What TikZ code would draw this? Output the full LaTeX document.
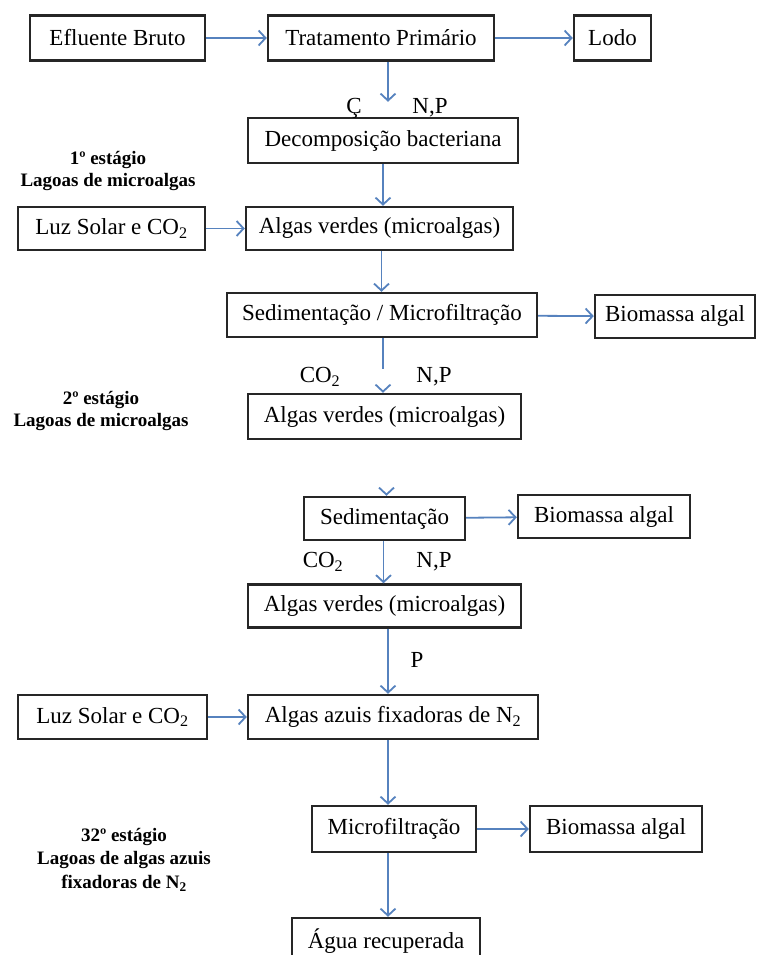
\documentclass[tikz,border=0pt]{standalone}
\usepackage{fontspec}
\setmainfont{Liberation Serif}
\usetikzlibrary{arrows.meta}
\definecolor{flowblue}{RGB}{86,130,190}

\begin{document}
\begin{tikzpicture}[x=1pt, y=-1pt, >={Straight Barb[length=7pt,width=15pt]},
    box/.style={draw=black!85, line width=2.4pt, fill=white, inner sep=0pt,
                minimum height=45pt, font=\fontsize{23}{27}\selectfont},
    flow/.style={->, draw=flowblue, line width=1.8pt},
    lbl/.style={inner sep=0pt, font=\fontsize{23}{27}\selectfont},
    stage/.style={align=center, inner sep=0pt, font=\bfseries\fontsize{19}{22}\selectfont}]

  \useasboundingbox (0,0) rectangle (756,955);

  \node[box, minimum width=175pt] (eflu)   at (117.5,38)  {Efluente Bruto};
  \node[box, minimum width=226pt] (trat)   at (381,38)    {Tratamento Primário};
  \node[box, minimum width=77pt]  (lodo)   at (612.5,38)  {Lodo};
  \node[box, minimum width=270pt] (decomp) at (383,140.5) {Decomposição bacteriana};

  \node[box, minimum width=187pt, minimum height=43pt] (luzA)    at (111.5,228.5) {Luz Solar e CO\textsubscript{2}};
  \node[box, minimum width=267pt, minimum height=43pt] (verdesA) at (379.5,228.5) {Algas verdes (microalgas)};
  \node[box, minimum width=310pt, minimum height=44pt] (sedmic)  at (382,315)     {Sedimentação / Microfiltração};
  \node[box, minimum width=160pt, minimum height=43pt] (bioA)    at (675,316.5)   {Biomassa algal};
  \node[box, minimum width=273pt] (verdesB) at (384.5,416.5) {Algas verdes (microalgas)};

  \node[box, minimum width=161pt, minimum height=43pt] (sedim)   at (384.5,518.5) {Sedimentação};
  \node[box, minimum width=172pt, minimum height=43pt] (bioB)    at (604,516.5)   {Biomassa algal};
  \node[box, minimum width=273pt, minimum height=43pt] (verdesC) at (384.5,606)   {Algas verdes (microalgas)};

  \node[box, minimum width=189pt, minimum height=44pt] (luzB)   at (112.5,717) {Luz Solar e CO\textsubscript{2}};
  \node[box, minimum width=290pt, minimum height=44pt] (azuis)  at (393,717)   {Algas azuis fixadoras de N\textsubscript{2}};
  \node[box, minimum width=164pt, minimum height=46pt] (microf) at (394,829)   {Microfiltração};
  \node[box, minimum width=172pt, minimum height=46pt] (bioC)   at (616,829)   {Biomassa algal};
  \node[box, minimum width=188pt, minimum height=46pt] (agua)   at (386,941)   {Água recuperada};

  \node[stage] (stageA) at (108,171)   {1º estágio\\Lagoas de microalgas};
  \node[stage] (stageB) at (101,410.5) {2º estágio\\Lagoas de microalgas};
  \node[stage, font=\bfseries\fontsize{19}{23.5}\selectfont] (stageC) at (124,859.5) {32º estágio\\Lagoas de algas azuis\\fixadoras de N\textsubscript{2}};

  \node[lbl] (cA)   at (354,108) {Ç};
  \node[lbl] (npA)  at (430,108) {N,P};
  \node[lbl] (co2A) at (320,377) {CO\textsubscript{2}};
  \node[lbl] (npB)  at (434,377) {N,P};
  \node[lbl] (co2B) at (323,562) {CO\textsubscript{2}};
  \node[lbl] (npC)  at (434,562) {N,P};
  \node[lbl] (pA)   at (417,660) {P};

  \draw[flow] (eflu) -- (trat);
  \draw[flow] (trat) -- (lodo);
  \draw[flow, shorten >=15pt] ([xshift=7pt]trat.south) -- ([xshift=7pt]trat.south |- decomp.north);
  \draw[flow] (decomp) -- (decomp |- verdesA.north);
  \draw[flow] (luzA) -- (verdesA);
  \draw[flow] ([xshift=2pt]verdesA.south) -- ([xshift=2pt]verdesA.south |- sedmic.north);
  \draw[flow] (sedmic) -- (bioA);
  \draw[flow, dash pattern=on 31pt off 60pt] ([xshift=1pt]sedmic.south) -- ([xshift=1pt]sedmic.south |- verdesB.north);
  \draw[flow, dash pattern=on 0pt off 80pt] ([xshift=2pt]verdesB.south) -- ([xshift=2pt]verdesB.south |- sedim.north);

  \draw[flow] (sedim) -- (bioB);
  \draw[flow] ([xshift=-1pt]sedim.south) -- ([xshift=-1pt]sedim.south |- verdesC.north);
  \draw[flow] ([xshift=3.5pt]verdesC.south) -- ([xshift=3.5pt]verdesC.south |- azuis.north);
  \draw[flow] (luzB) -- (azuis);
  \draw[flow] ([xshift=-5pt]azuis.south) -- ([xshift=-5pt]azuis.south |- microf.north);
  \draw[flow] (microf) -- (bioC);
  \draw[flow] ([xshift=-6pt]microf.south) -- ([xshift=-6pt]microf.south |- agua.north);

\end{tikzpicture}
\end{document}
